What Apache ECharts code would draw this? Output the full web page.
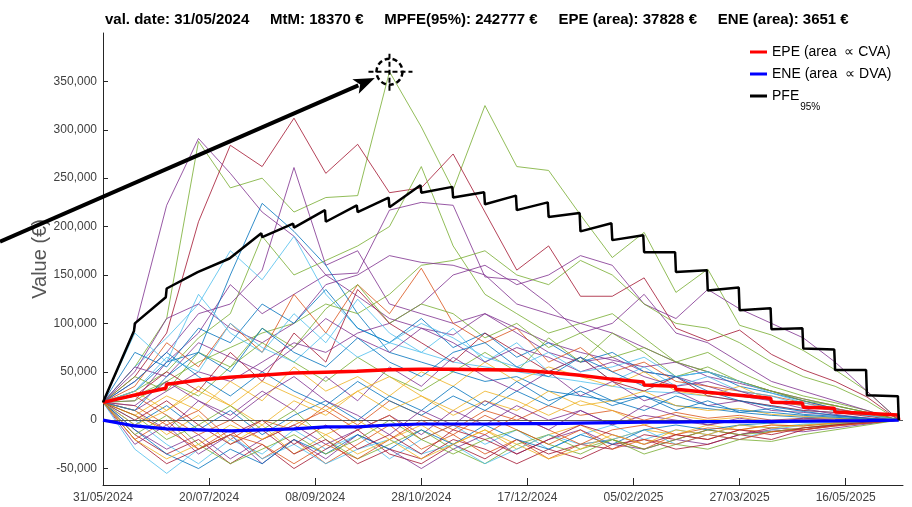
<!DOCTYPE html>
<html>
<head>
<meta charset="utf-8">
<script src="https://cdn.jsdelivr.net/npm/echarts@6/dist/echarts.min.js"></script>
<style>
  html, body { margin: 0; padding: 0; background: #ffffff; }
  #chart { width: 912px; height: 507px; }
</style>
</head>
<body>
<div id="chart"></div>
<script>
// Exposure profile of a single trade: simulated MtM paths, EPE, ENE and PFE(95%)

const valDate = '31/05/2024';
const mtm = 18370;          // €
const mpfe95 = 242777;      // €
const epeArea = 37828;      // €
const eneArea = 3651;       // €

// Simulation grid, days after the valuation date
const gridDays = [0, 15, 30, 45, 60, 75, 90, 105, 120, 135, 150, 165, 180,
                  195, 210, 225, 240, 255, 270, 285, 300, 315, 330, 345, 360, 375];
const axisMaxDay = 377;

// Date axis ticks
const tickDays = [0, 50, 100, 150, 200, 250, 300, 350];
const tickLabels = ['31/05/2024', '20/07/2024', '08/09/2024', '28/10/2024',
                    '17/12/2024', '05/02/2025', '27/03/2025', '16/05/2025'];

// Value axis ticks (€)
const valueTicks = [-50000, 0, 50000, 100000, 150000, 200000, 250000, 300000, 350000];

// Simulated MtM paths, k€, one value per grid date
const paths = [
  [18.4, 55, 105, 288, 240, 250, 215, 230, 232, 360, 303, 238, 325, 262, 258, 212, 168, 194, 132, 156, 98, 88, 72, 52, 30, 0],
  [18.4, 45, 90, 205, 284, 262, 312, 255, 285, 235, 240, 275, 215, 155, 180, 128, 128, 147, 95, 82, 93, 68, 52, 40, 24, 0],
  [18.4, 95, 222, 291, 255, 215, 190, 150, 128, 105, 95, 88, 110, 95, 80, 70, 62, 55, 60, 45, 38, 30, 22, 15, 8, 0],
  [18.4, 30, 50, 85, 110, 190, 150, 165, 180, 200, 262, 180, 130, 110, 90, 100, 110, 85, 60, 70, 50, 35, 25, 18, 10, 0],
  [18.4, 20, 60, 90, 140, 110, 130, 150, 152, 217, 225, 222, 148, 145, 120, 90, 100, 130, 90, 80, 60, 40, 30, 20, 10, 0],
  [18.4, 40, 70, 110, 120, 155, 261, 160, 175, 120, 110, 100, 110, 90, 70, 60, 65, 50, 45, 35, 25, 20, 15, 10, 5, 0],
  [18.4, 30, 60, 70, 150, 224, 195, 160, 110, 70, 60, 50, 40, 45, 30, 25, 20, 25, 15, 12, 8, 5, 3, 2, 1, 0],
  [18.4, 55, 85, 120, 175, 145, 190, 130, 95, 80, 70, 60, 55, 50, 45, 40, 35, 30, 28, 25, 20, 15, 10, 8, 5, 0],
  [18.4, 10, 30, 50, 40, 60, 80, 70, 90, 100, 120, 150, 160, 140, 150, 170, 160, 120, 105, 135, 115, 100, 85, 60, 30, 0],
  [18.4, 25, 40, 60, 75, 90, 100, 120, 110, 130, 160, 165, 175, 150, 140, 165, 150, 120, 100, 95, 80, 60, 45, 35, 20, 0],
  [18.4, 50, 105, 120, 95, 80, 100, 140, 150, 170, 163, 160, 150, 120, 110, 100, 90, 75, 60, 50, 40, 30, 20, 12, 5, 0],
  [18.4, 70, 55, 95, 80, 120, 100, 135, 95, 80, 105, 75, 90, 65, 80, 60, 70, 50, 45, 50, 35, 28, 20, 12, 6, 0],
  [18.4, 35, 80, 55, 100, 70, 130, 90, 140, 110, 157, 100, 80, 95, 60, 75, 50, 60, 40, 35, 30, 25, 18, 12, 6, 0],
  [18.4, 5, 25, 10, 40, 20, 55, 30, 45, 25, 50, 35, 60, 40, 55, 45, 35, 50, 30, 25, 35, 20, 15, 10, 5, 0],
  [18.4, 10, -10, 20, 5, 30, 10, 45, 20, 55, 35, 65, 45, 30, 50, 25, 40, 20, 30, 15, 20, 10, 8, 5, 2, 0],
  [18.4, 45, 30, 70, 55, 95, 75, 115, 140, 100, 120, 110, 85, 100, 75, 90, 65, 75, 60, 50, 40, 30, 22, 15, 8, 0],
  [18.4, 90, 60, 130, 90, 70, 110, 80, 125, 90, 70, 95, 60, 80, 50, 65, 40, 55, 35, 45, 30, 25, 15, 10, 5, 0],
  [18.4, 25, 50, 30, 70, 40, 90, 60, 135, 100, 80, 60, 90, 70, 50, 65, 40, 30, 45, 25, 20, 15, 10, 8, 4, 0],
  [18.4, -5, 15, -10, 10, -15, 5, 20, 0, 25, 10, 35, 15, 40, 20, 30, 15, 25, 10, 20, 8, 12, 6, 4, 2, 0],
  [18.4, 15, -5, 10, -20, 0, -10, 15, -5, 20, 5, -10, 10, 0, 15, 5, 10, 0, 8, 2, 5, 0, 2, 1, 0, 0],
  [18.4, 30, 10, 35, 15, -5, 20, 5, 30, 10, 25, 5, 20, 10, 30, 15, 20, 30, 15, 10, 12, 6, 4, 2, 1, 0],
  [18.4, -10, -30, -15, -40, -20, -5, -25, -10, 5, -15, 10, -5, 15, 0, 10, -5, 5, 0, -5, 2, -3, 0, -1, 0, 0],
  [18.4, 20, 40, 25, 55, 80, 60, 40, 65, 45, 30, 50, 70, 50, 85, 60, 90, 70, 45, 55, 40, 30, 20, 15, 8, 0],
  [18.4, 0, -25, -45, -20, -35, -10, -30, -15, -40, -20, -5, -25, -10, -30, -15, -5, -20, -10, -15, -5, -8, -4, -2, -1, 0],
  [18.4, -15, -35, -20, -45, -25, -50, -30, -10, -35, -45, -25, -40, -20, -35, -25, -30, -15, -20, -10, -15, -8, -10, -5, -3, 0],
  [18.4, 40, 70, 45, 25, 50, 30, 15, 40, 20, 5, 25, 10, 30, 15, 35, 20, 10, 25, 15, 10, 8, 5, 3, 1, 0],
  [18.4, -20, 0, -30, -10, -40, -20, -45, -25, -5, -30, -15, -35, -20, -40, -25, -20, -30, -15, -20, -10, -12, -8, -5, -2, 0],
  [18.4, 10, -15, 5, -25, -5, -35, -15, 0, -20, -5, -25, -10, -30, -15, -5, -20, -10, -15, -5, -10, -5, -6, -3, -1, 0],
  [18.4, -25, -5, -35, -15, -45, -20, -40, -15, -30, -50, -30, -15, -35, -20, -10, -25, -30, -20, -25, -15, -10, -12, -8, -4, 0],
  [18.4, 5, -20, -5, 15, -10, 10, -20, -40, -25, -10, -30, -45, -25, -15, -30, -20, -35, -25, -30, -20, -22, -15, -10, -5, 0],
  [18.4, -30, -55, -30, -15, -40, -25, -45, -30, -20, -35, -25, -45, -30, -15, -25, -20, -10, -25, -15, -20, -10, -5, -3, -2, 0],
  [18.4, 0, 20, -5, -25, -10, -35, -20, -45, -30, -40, -20, -30, -45, -30, -40, -25, -20, -30, -25, -15, -20, -10, -6, -3, 0],
  [18.4, -10, -35, -50, -30, -45, -20, -35, -15, -30, -10, -25, -5, -20, -30, -15, -25, -10, -5, -10, -5, -3, -2, -1, 0, 0],
  [18.4, 25, 5, -15, 0, -20, -5, 10, -10, 5, -20, -5, -15, 5, -10, -25, -10, -5, -15, -8, -10, -5, -6, -3, -1, 0],
  [18.4, -5, 10, 30, 15, 40, 25, 10, 30, 45, 25, 10, 30, 20, 5, 20, 10, -5, 5, 0, 3, -2, 1, 0, 0, 0],
  [18.4, 55, 45, 80, 65, 50, 75, 105, 85, 70, 95, 80, 60, 75, 65, 50, 60, 45, 35, 40, 30, 20, 12, 6, 2, 0],
  [18.4, -15, 5, -25, -45, -30, -15, -35, -20, 0, -20, -35, -20, -10, -25, -35, -20, -30, -20, -10, -15, -12, -8, -4, -2, 0],
  [18.4, 30, 65, 50, 100, 75, 60, 90, 65, 80, 100, 85, 65, 55, 70, 50, 55, 65, 45, 50, 40, 28, 18, 10, 5, 0],
  [18.4, -20, -45, -30, -15, 0, -25, -5, -30, -15, -35, -10, -20, -35, -20, -5, -15, -25, -15, -20, -10, -15, -8, -5, -2, 0],
  [18.4, 10, 45, 70, 50, 95, 70, 55, 85, 60, 45, 70, 80, 55, 45, 65, 50, 35, 45, 30, 20, 14, 9, 5, 2, 0],
  [18.4, 5, -10, -30, -15, -25, -45, -25, -40, -20, 0, -15, 5, -10, -25, -10, -30, -20, -25, -15, -20, -12, -10, -6, -3, 0],
  [18.4, -20, -40, -25, -5, -20, 0, -15, -35, -20, -40, -25, -10, -25, -40, -30, -15, -25, -10, -15, -5, -8, -5, -3, -1, 0],
  [18.4, 15, 40, 20, 0, 25, 45, 20, 5, -15, 10, -5, 20, 5, -10, 10, -5, 15, 5, -5, 0, -3, 2, 0, 0, 0]
];
// Palette slot used by each path
const pathColorIdx = [4, 6, 3, 4, 3, 3, 0, 5, 3, 4, 3,
                      0, 1, 2, 3, 4, 5, 6, 0, 1, 2, 3, 4, 5, 6, 0, 1, 2, 3, 4, 5, 6,
                      0, 1, 2, 3, 4, 5, 6, 0, 1, 2, 3];

// Expected exposures (k€): value just before and right after each grid date
const epeBefore = [18.4, 25.8, 33.0, 41.3, 44.4, 46.5, 48.6, 49.6, 50.6, 52.2, 52.7, 52.7, 52.2,
                   51.7, 49.6, 46.5, 42.4, 39.3, 35.1, 28.9, 25.8, 22.7, 17.6, 12.4, 7.2, 5.2];
const epeAfter  = [18.4, 26.9, 37.2, 41.3, 45.5, 46.5, 48.6, 49.6, 50.6, 52.2, 52.7, 52.7, 52.2,
                   51.7, 49.6, 46.5, 41.3, 36.2, 32.0, 26.9, 23.8, 18.6, 13.4, 8.3, 5.2, 0];
const eneValues = [0, -6, -9, -10, -11, -10, -9, -7, -7, -5, -4, -4, -4,
                   -3.5, -3.5, -3, -2.5, -2, -2, -1.5, -1.5, -1.2, -1, -0.8, -0.5, 0];
const pfeBefore = [18.4, 92, 127, 153, 167, 193, 203, 217, 222, 230, 242.777, 241, 235.5,
                   232, 225, 214, 203.5, 191, 173.5, 155, 137, 115.7, 95, 73, 51.7, 24.8];
const pfeAfter  = [18.4, 100, 136, 153, 167, 189, 199, 205, 215, 220, 235, 230, 223,
                   217, 210, 195, 186, 173.5, 153, 134, 113.6, 94, 74, 51.7, 25.8, 0];

const palette = ['#0072BD', '#D95319', '#EDB120', '#7E2F8E', '#77AC30', '#4DBEEE', '#A2142F'];
const K = 1000;
const FONT = '"Liberation Sans", Arial, sans-serif';

function stepped(before, after) {
  const out = [[gridDays[0], after[0] * K]];
  for (let i = 1; i < gridDays.length; i++) {
    out.push([gridDays[i] - 0.4, before[i] * K]);
    out.push([gridDays[i], after[i] * K]);
  }
  return out;
}
function fmtThousands(v) {
  const s = Math.abs(v).toString().replace(/\B(?=(\d{3})+(?!\d))/g, ',');
  return (v < 0 ? '-' : '') + s;
}

const series = [];
paths.forEach((p, i) => {
  series.push({
    name: 'path' + i,
    type: 'line',
    data: p.map((v, k) => [gridDays[k], v * K]),
    symbol: 'none',
    silent: true,
    lineStyle: { width: 1, color: palette[pathColorIdx[i]], opacity: 0.8 },
    z: 2
  });
});
series.push({
  name: 'EPE (area  \u221D CVA)',
  type: 'line',
  data: stepped(epeBefore, epeAfter),
  symbol: 'none',
  color: '#FF0000',
  lineStyle: { width: 3.5, color: '#FF0000' },
  z: 5
});
series.push({
  name: 'ENE (area  \u221D DVA)',
  type: 'line',
  data: eneValues.map((v, k) => [gridDays[k], v * K]),
  symbol: 'none',
  color: '#0000FF',
  lineStyle: { width: 3.2, color: '#0000FF' },
  markLine: {
    silent: true, symbol: 'none', label: { show: false },
    lineStyle: { color: '#555555', width: 1, type: 'solid' },
    data: [{ yAxis: 0 }]
  },
  z: 5
});
series.push({
  name: 'PFE',
  type: 'line',
  data: stepped(pfeBefore, pfeAfter),
  symbol: 'none',
  color: '#000000',
  lineStyle: { width: 2.5, color: '#000000' },
  z: 6
});

const titleText = 'val. date: ' + valDate + '     MtM: ' + mtm + ' \u20AC     MPFE(95%): ' + mpfe95 +
  ' \u20AC     EPE (area): ' + epeArea + ' \u20AC     ENE (area): ' + eneArea + ' \u20AC';

const chart = echarts.init(document.getElementById('chart'), null, { renderer: 'canvas' });
chart.setOption({
  animation: false,
  backgroundColor: '#ffffff',
  title: {
    text: titleText,
    left: 100, top: 7,
    textStyle: { fontFamily: FONT, fontWeight: 'bold', fontSize: 15, color: '#000' }
  },
  legend: {
    orient: 'vertical',
    left: 748, top: 43,
    itemWidth: 17, itemHeight: 3, itemGap: 8,
    icon: 'rect',
    backgroundColor: '#ffffff',
    padding: [2, 4, 2, 2],
    data: ['EPE (area  \u221D CVA)', 'ENE (area  \u221D DVA)', 'PFE'],
    formatter: name => name === 'PFE' ? '{m|PFE}{s|95%}' : name,
    textStyle: {
      fontFamily: FONT, fontSize: 14, color: '#000',
      rich: {
        m: { fontFamily: FONT, fontSize: 14, color: '#000' },
        s: { fontFamily: FONT, fontSize: 10, color: '#000', padding: [22, 0, 0, 1] }
      }
    }
  },
  grid: { left: 103, right: 9, top: 33, bottom: 22, containLabel: false },
  xAxis: {
    type: 'value',
    min: 0, max: axisMaxDay,
    axisLine: { show: true, onZero: false, lineStyle: { color: '#262626', width: 1 } },
    axisTick: { show: true, inside: true, length: 7, customValues: tickDays, lineStyle: { color: '#262626' } },
    axisLabel: {
      customValues: tickDays,
      formatter: v => tickLabels[tickDays.indexOf(v)] || '',
      fontFamily: FONT, fontSize: 12, color: '#404040', margin: 7
    },
    splitLine: { show: false }
  },
  yAxis: {
    type: 'value',
    min: -67000, max: 400000,
    name: 'Value (\u20AC)',
    nameLocation: 'middle',
    nameGap: 53,
    nameMoveOverlap: false,
    nameTextStyle: { fontFamily: FONT, fontSize: 20, color: '#555555' },
    axisLine: { show: true, onZero: false, lineStyle: { color: '#262626', width: 1 } },
    axisTick: { show: true, inside: true, length: 5, customValues: valueTicks, lineStyle: { color: '#262626' } },
    axisLabel: {
      customValues: valueTicks,
      formatter: v => fmtThousands(v),
      fontFamily: FONT, fontSize: 12, color: '#404040', margin: 6
    },
    splitLine: { show: false }
  },
  series: series
});

// Marker on the highest simulated value, with a pointer arrow coming in from the left
let peakK = 0, peakVal = -Infinity;
paths.forEach(p => p.forEach((v, k) => { if (v > peakVal) { peakVal = v; peakK = k; } }));
const c = chart.convertToPixel({ gridIndex: 0 }, [gridDays[peakK], peakVal * K]);
const cx = c[0], cy = c[1];
const sx = 0, sy = 241.7;
const dx = cx - sx, dy = cy - sy, len = Math.hypot(dx, dy);
const ux = dx / len, uy = dy / len;
const tipX = cx - ux * 16, tipY = cy - uy * 16;
const headLen = 21, headHalf = 8;
const bx = tipX - ux * headLen, by = tipY - uy * headLen;
const nx = -uy, ny = ux;

chart.setOption({
  graphic: [
    { type: 'line', z: 100, silent: true,
      shape: { x1: sx, y1: sy, x2: bx + ux * 3, y2: by + uy * 3 },
      style: { stroke: '#000', lineWidth: 4 } },
    { type: 'polygon', z: 100, silent: true,
      shape: { points: [[tipX, tipY], [bx + nx * headHalf, by + ny * headHalf], [bx + ux * 5, by + uy * 5], [bx - nx * headHalf, by - ny * headHalf]] },
      style: { fill: '#000' } },
    { type: 'circle', z: 100, silent: true,
      shape: { cx: cx, cy: cy, r: 13 },
      style: { fill: 'none', stroke: '#000', lineWidth: 2.5, lineDash: [5, 3] } },
    { type: 'line', z: 100, silent: true,
      shape: { x1: cx - 21, y1: cy, x2: cx + 23, y2: cy },
      style: { stroke: '#000', lineWidth: 2, lineDash: [5, 3] } },
    { type: 'line', z: 100, silent: true,
      shape: { x1: cx, y1: cy - 18, x2: cx, y2: cy + 19 },
      style: { stroke: '#000', lineWidth: 2, lineDash: [5, 3] } }
  ]
});
</script>
</body>
</html>
